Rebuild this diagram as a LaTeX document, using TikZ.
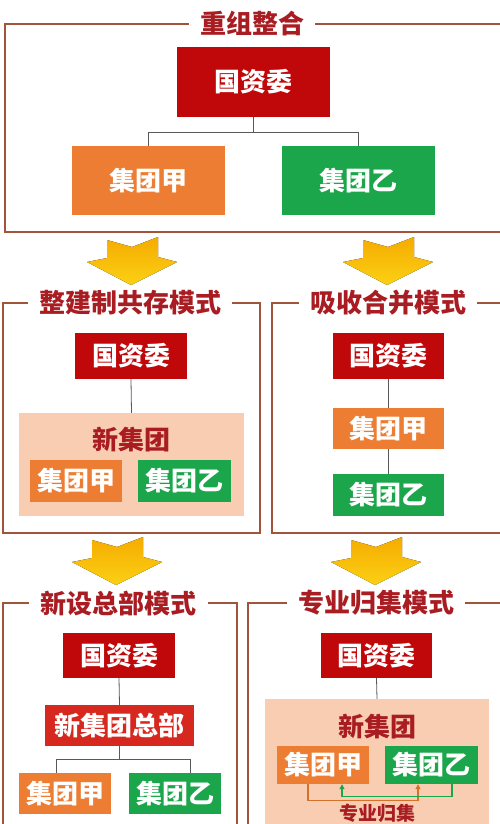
\documentclass[tikz,border=0pt]{standalone}
\usepackage{fontspec}
\newfontfamily\cjk{Noto Sans CJK SC}
\usetikzlibrary{positioning, arrows.meta, calc}
\definecolor{sasared}{RGB}{192,8,10}
\definecolor{hqred}{RGB}{214,40,30}
\definecolor{grouporange}{RGB}{236,125,50}
\definecolor{groupgreen}{RGB}{28,166,76}
\definecolor{newpeach}{RGB}{248,205,178}
\definecolor{titlered}{RGB}{168,28,34}
\definecolor{framebrown}{RGB}{160,84,58}
\definecolor{arrowgold}{RGB}{245,172,0}
\definecolor{arrowyellow}{RGB}{252,208,20}

\begin{document}
\begin{tikzpicture}[x=1pt, y=-1pt,
  box/.style={rectangle, inner sep=0pt, text=white, font=\cjk\bfseries\fontsize{26}{26}\selectfont},
  redbox/.style={box, fill=sasared},
  hqbox/.style={box, fill=hqred},
  orangebox/.style={box, fill=grouporange},
  greenbox/.style={box, fill=groupgreen},
  peachbox/.style={rectangle, inner sep=0pt, fill=newpeach},
  modetitle/.style={inner xsep=11pt, inner ysep=0pt, text=titlered, font=\cjk\bfseries\fontsize{26}{26}\selectfont},
  grouptitle/.style={inner sep=0pt, text=titlered, font=\cjk\bfseries\fontsize{26}{26}\selectfont},
  frameline/.style={draw=framebrown, line width=1.6pt},
  link/.style={draw=black!65, line width=0.8pt},
  mergelink/.style={line width=1.2pt, -{Triangle[length=5pt, width=5pt]}},
  goldarrow/.style={top color=arrowgold, bottom color=arrowyellow, draw=none}
]
\useasboundingbox (0,0) rectangle (500,824);
\clip (0,0) rectangle (500,824);
\fill[white] (0,0) rectangle (500,824);

% big yellow arrows between the rows
\foreach \ax/\ay in {132/238, 388/238, 117/538, 376/538}
  \fill[goldarrow] (\ax-25,\ay+2) -- (\ax,\ay+9) -- (\ax+26,\ay-1) -- (\ax+26,\ay+19) -- (\ax+45,\ay+24)
    -- (\ax-1,\ay+47) -- (\ax-45,\ay+24) -- (\ax-25,\ay+20) -- cycle;

% reorganisation
\node[modetitle] (t0) at (252,24) {重组整合};
\draw[frameline] (t0.west) -- (5,24) -- (5,232) -- (510,232) -- (510,24) -- (t0.east);
\node[redbox, minimum width=153pt, minimum height=70pt] (gzw0) at (253.5,82) {国资委};
\node[orangebox, minimum width=153pt, minimum height=69pt] (ja0) at (148.5,180.5) {集团甲};
\node[greenbox, minimum width=153pt, minimum height=69pt] (yi0) at (358.5,180.5) {集团乙};
\draw[link] (gzw0.south) -- ++(0,15) -| (ja0.north);
\draw[link] (gzw0.south) ++(0,15) -| (yi0.north);

% mode 1
\node[modetitle] (t1) at (130,303) {整建制共存模式};
\draw[frameline] (t1.west) -- (3,303) -- (3,533) -- (260,533) -- (260,303) -- (t1.east);
\node[redbox, minimum width=112pt, minimum height=46pt] (gzw1) at (131,356) {国资委};
\node[peachbox, minimum width=225pt, minimum height=103pt] (nb1) at (131.5,464.5) {};
\node[grouptitle] (xjt1) at (131,440) {新集团};
\node[orangebox, minimum width=92pt, minimum height=42pt] (ja1) at (76,481) {集团甲};
\node[greenbox, minimum width=93pt, minimum height=42pt] (yi1) at (184.5,481) {集团乙};
\draw[link] (gzw1.south) -- (nb1.north);

% mode 2
\node[modetitle] (t2) at (388,303) {吸收合并模式};
\draw[frameline] (t2.west) -- (272,303) -- (272,533) -- (510,533) -- (510,303) -- (t2.east);
\node[redbox, minimum width=111pt, minimum height=46pt] (gzw2) at (388.5,356) {国资委};
\node[orangebox, minimum width=111pt, minimum height=41pt] (ja2) at (388.5,428.5) {集团甲};
\node[greenbox, minimum width=111pt, minimum height=42pt] (yi2) at (388.5,495) {集团乙};
\draw[link] (gzw2.south) -- (ja2.north);
\draw[link] (ja2.south) -- (yi2.north);

% mode 3
\node[modetitle] (t3) at (118.5,603) {新设总部模式};
\draw[frameline] (t3.west) -- (3,603) -- (3,840) (237,840) -- (237,603) -- (t3.east);
\node[redbox, minimum width=112pt, minimum height=45pt] (gzw3) at (119,655.5) {国资委};
\node[hqbox, minimum width=149pt, minimum height=41pt] (hq3) at (119.5,725.5) {新集团总部};
\node[orangebox, minimum width=92pt, minimum height=41pt] (ja3) at (65,793.5) {集团甲};
\node[greenbox, minimum width=92pt, minimum height=41pt] (yi3) at (175,793.5) {集团乙};
\draw[link] (gzw3.south) -- (hq3.north);
\draw[link] (hq3.south) -- ++(0,13) -| ([xshift=-9pt]ja3.north);
\draw[link] (hq3.south) ++(0,13) -| ([xshift=15pt]yi3.north);

% mode 4
\node[modetitle] (t4) at (376,603) {专业归集模式};
\draw[frameline] (t4.west) -- (248,603) -- (248,840) (510,840) -- (510,603) -- (t4.east);
\node[redbox, minimum width=111pt, minimum height=45pt] (gzw4) at (376.5,655.5) {国资委};
\node[peachbox, minimum width=224pt, minimum height=141pt] (nb4) at (377,769.5) {};
\node[grouptitle] (xjt4) at (377,727) {新集团};
\node[orangebox, minimum width=92pt, minimum height=38pt] (ja4) at (323,765) {集团甲};
\node[greenbox, minimum width=93pt, minimum height=38pt] (yi4) at (431.5,765) {集团乙};
\draw[link] (gzw4.south) -- (nb4.north);
\draw[mergelink, draw=grouporange!90!black] ([xshift=-15pt]ja4.south) -- ++(0,16) -| ([xshift=-13.5pt]yi4.south);
\draw[mergelink, draw=groupgreen] ([xshift=20.5pt]yi4.south) -- ++(0,12) -| ([xshift=19pt]ja4.south);
\node[grouptitle, font=\cjk\bfseries\fontsize{19}{19}\selectfont] (zy4) at (377,813) {专业归集};
\end{tikzpicture}
\end{document}
